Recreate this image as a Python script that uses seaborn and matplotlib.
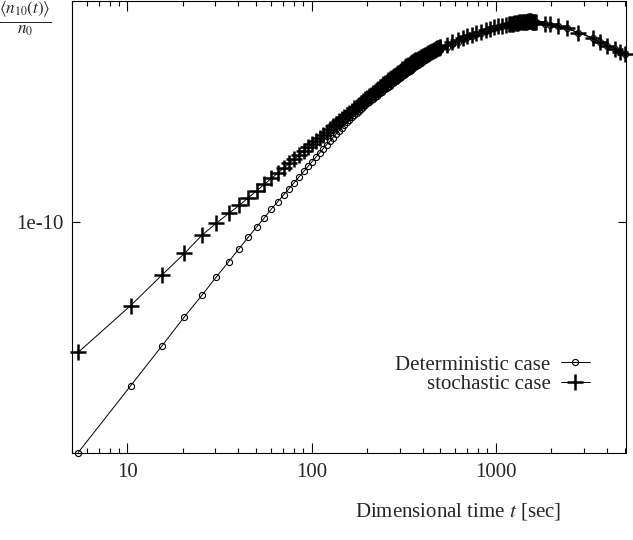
import numpy as np
import pandas as pd
import matplotlib
matplotlib.use("Agg")
import matplotlib.pyplot as plt
import seaborn as sns
from matplotlib.ticker import FixedLocator, NullLocator, NullFormatter, LogLocator

# ---- data ----
t_sec = [5.4, 10.4, 15.4, 20.4, 25.4, 30.4, 35.4, 40.4, 45.4, 50.4,
         55.4, 60.4, 65.4, 70.4, 75.4, 80.4, 85.4, 90.4, 95.4, 100.4,
         105.4, 110.4, 115.4, 120.4, 125.4, 130.4, 135.4, 140.4, 145.4, 150.4,
         155.4, 160.4, 165.4, 170.4, 175.4, 180.4, 185.4, 190.4, 195.4, 200.4,
         205.4, 210.4, 215.4, 220.4, 225.4, 230.4, 235.4, 240.4, 245.4, 250.4,
         255.4, 260.4, 265.4, 270.4, 275.4, 280.4, 285.4, 290.4, 295.4, 300.4,
         305.4, 310.4, 315.4, 320.4, 325.4, 330.4, 335.4, 340.4, 345.4, 350.4,
         355.4, 360.4, 365.4, 370.4, 375.4, 380.4, 385.4, 390.4, 395.4, 400.4,
         405.4, 410.4, 415.4, 420.4, 425.4, 430.4, 435.4, 440.4, 445.4, 450.4,
         455.4, 460.4, 465.4, 470.4, 475.4, 480.4, 485.4, 490.4, 495.4, 500.4,
         540, 580, 620, 660, 700, 740, 780, 830, 880, 930, 980, 1030, 1080, 1130, 1180,
         1200, 1220, 1240, 1260, 1280, 1300, 1320, 1340, 1360, 1380, 1400, 1420,
         1440, 1460, 1480, 1500, 1520, 1540, 1560, 1580, 1600, 1620, 1640, 1660,
         1850, 1965, 2180, 2425, 2800, 3380, 3675, 4025, 4435, 4720, 5020]

# log10 of <n10(t)>/n0
log10_det = [-10.767, -10.544, -10.411, -10.314, -10.242, -10.181, -10.131, -10.087, -10.048, -10.014,
             -9.984, -9.955, -9.931, -9.908, -9.887, -9.867, -9.848, -9.830, -9.813, -9.797,
             -9.782, -9.768, -9.754, -9.741, -9.729, -9.717, -9.706, -9.695, -9.685, -9.675,
             -9.665, -9.657, -9.649, -9.642, -9.634, -9.628, -9.621, -9.614, -9.608, -9.602,
             -9.597, -9.592, -9.587, -9.582, -9.577, -9.572, -9.568, -9.564, -9.560, -9.556,
             -9.552, -9.548, -9.544, -9.540, -9.536, -9.533, -9.529, -9.526, -9.522, -9.519,
             -9.516, -9.513, -9.509, -9.506, -9.503, -9.500, -9.497, -9.494, -9.491, -9.489,
             -9.486, -9.483, -9.480, -9.478, -9.475, -9.473, -9.470, -9.468, -9.465, -9.463,
             -9.460, -9.458, -9.455, -9.453, -9.451, -9.449, -9.446, -9.444, -9.442, -9.440,
             -9.438, -9.436, -9.434, -9.432, -9.430, -9.428, -9.426, -9.425, -9.424, -9.423,
             -9.414, -9.405, -9.397, -9.390, -9.383, -9.378, -9.373, -9.367, -9.361, -9.356,
             -9.351, -9.348, -9.345, -9.343, -9.341,
             -9.340, -9.339, -9.338, -9.337, -9.336, -9.335, -9.334, -9.334, -9.333, -9.333,
             -9.332, -9.332, -9.331, -9.331, -9.331, -9.331, -9.330, -9.330, -9.330, -9.331,
             -9.331, -9.331, -9.332, -9.332,
             -9.338, -9.341, -9.345, -9.353, -9.367, -9.386, -9.399, -9.411, -9.423, -9.431, -9.438]

log10_stoch = [-10.433, -10.277, -10.175, -10.103, -10.042, -10.002, -9.970, -9.943, -9.917, -9.894,
               -9.873, -9.853, -9.836, -9.819, -9.803, -9.789, -9.775, -9.762, -9.750, -9.738,
               -9.727, -9.717, -9.707, -9.697, -9.689, -9.680, -9.671, -9.663, -9.656, -9.648,
               -9.641, -9.634, -9.627, -9.620, -9.614, -9.608, -9.602, -9.596, -9.590, -9.585,
               -9.580, -9.574, -9.569, -9.564, -9.559, -9.554, -9.549, -9.544, -9.540, -9.535,
               -9.531, -9.526, -9.522, -9.518, -9.515, -9.511, -9.508, -9.504, -9.501, -9.497,
               -9.494, -9.490, -9.487, -9.483, -9.480, -9.477, -9.474, -9.471, -9.469, -9.466,
               -9.464, -9.462, -9.460, -9.458, -9.456, -9.454, -9.452, -9.450, -9.448, -9.446,
               -9.445, -9.443, -9.441, -9.439, -9.438, -9.436, -9.434, -9.432, -9.431, -9.429,
               -9.428, -9.426, -9.425, -9.423, -9.422, -9.420, -9.419, -9.417, -9.416, -9.415,
               -9.407, -9.400, -9.392, -9.386, -9.380, -9.375, -9.370, -9.364, -9.359, -9.354,
               -9.349, -9.346, -9.344, -9.342, -9.340,
               -9.339, -9.338, -9.337, -9.336, -9.335, -9.335, -9.334, -9.333, -9.333, -9.332,
               -9.332, -9.332, -9.331, -9.331, -9.331, -9.330, -9.330, -9.330, -9.330, -9.331,
               -9.331, -9.331, -9.331, -9.332,
               -9.338, -9.340, -9.345, -9.353, -9.367, -9.386, -9.399, -9.411, -9.423, -9.431, -9.438]

series_labels = ["Deterministic case", "stochastic case"]
x_major_ticks = [10, 100, 1000]
x_major_labels = ["10", "100", "1000"]
y_ticks = [1e-10]
y_tick_labels = ["1e-10"]
x_limits = (5.0, 5085)
y_limits = (10 ** -10.7683, 10 ** -9.2617)

# ---- style ----
sns.set_style("ticks")
plt.rcParams["font.family"] = ["Liberation Serif", "DejaVu Serif"]
plt.rcParams["mathtext.fontset"] = "stix"

FS = 15
W, H = 633, 540
fig = plt.figure(figsize=(W / 100, H / 100), dpi=100)
ax = fig.add_axes([72 / W, (H - 453) / H, 554 / W, 452 / H])

df = pd.DataFrame({
    "t": t_sec,
    "det": np.power(10.0, log10_det),
    "stoch": np.power(10.0, log10_stoch),
})

sns.lineplot(data=df, x="t", y="stoch", ax=ax, color="black", lw=0.7,
             marker="+", markersize=11.5, markeredgewidth=1.8, markeredgecolor="black",
             label=series_labels[1], sort=False, estimator=None, clip_on=False, zorder=3)
sns.lineplot(data=df, x="t", y="det", ax=ax, color="black", lw=0.7,
             marker="o", markersize=4.4, markerfacecolor="none", markeredgecolor="black",
             markeredgewidth=0.8, label=series_labels[0], sort=False, estimator=None,
             clip_on=False, zorder=4)

ax.set_xscale("log")
ax.set_yscale("log")
ax.set_xlim(*x_limits)
ax.set_ylim(*y_limits)

ax.xaxis.set_major_locator(FixedLocator(x_major_ticks))
ax.set_xticklabels(x_major_labels)
ax.xaxis.set_minor_locator(LogLocator(base=10, subs=np.arange(2, 10), numticks=30))
ax.xaxis.set_minor_formatter(NullFormatter())
ax.yaxis.set_major_locator(FixedLocator(y_ticks))
ax.set_yticklabels(y_tick_labels)
ax.yaxis.set_minor_locator(NullLocator())

ax.tick_params(which="both", direction="in", top=True, right=True, color="black")
ax.tick_params(axis="x", which="major", length=7.5, width=0.8, labelsize=FS, pad=7)
ax.tick_params(axis="x", which="minor", length=3.8, width=0.8)
ax.tick_params(axis="y", which="major", length=6, width=0.8, labelsize=FS, pad=6)
for s in ax.spines.values():
    s.set_linewidth(0.8)
    s.set_color("black")

ax.set_xlabel("Dimensional time $t$ [sec]", fontsize=FS)
ax.xaxis.label.set_verticalalignment("center")
ax.xaxis.set_label_coords((458 - 72) / 554, (453 - 511) / 452)
ax.set_ylabel("")
fig.text(25 / W, 1 - 19 / H, r"$\frac{\langle n_{10}(t)\rangle}{n_0}$",
         ha="center", va="center", fontsize=17.5)

h, l = ax.get_legend_handles_labels()
order = [l.index(series_labels[0]), l.index(series_labels[1])]
ax.legend([h[i] for i in order], [l[i] for i in order], loc="upper right",
          bbox_to_anchor=((590 - 72) / 554, (453 - 355) / 452), frameon=False,
          markerfirst=False, handlelength=1.4, handletextpad=0.5, labelspacing=0.0,
          borderpad=0, borderaxespad=0, fontsize=FS)

fig.savefig("out.png", dpi=100)
